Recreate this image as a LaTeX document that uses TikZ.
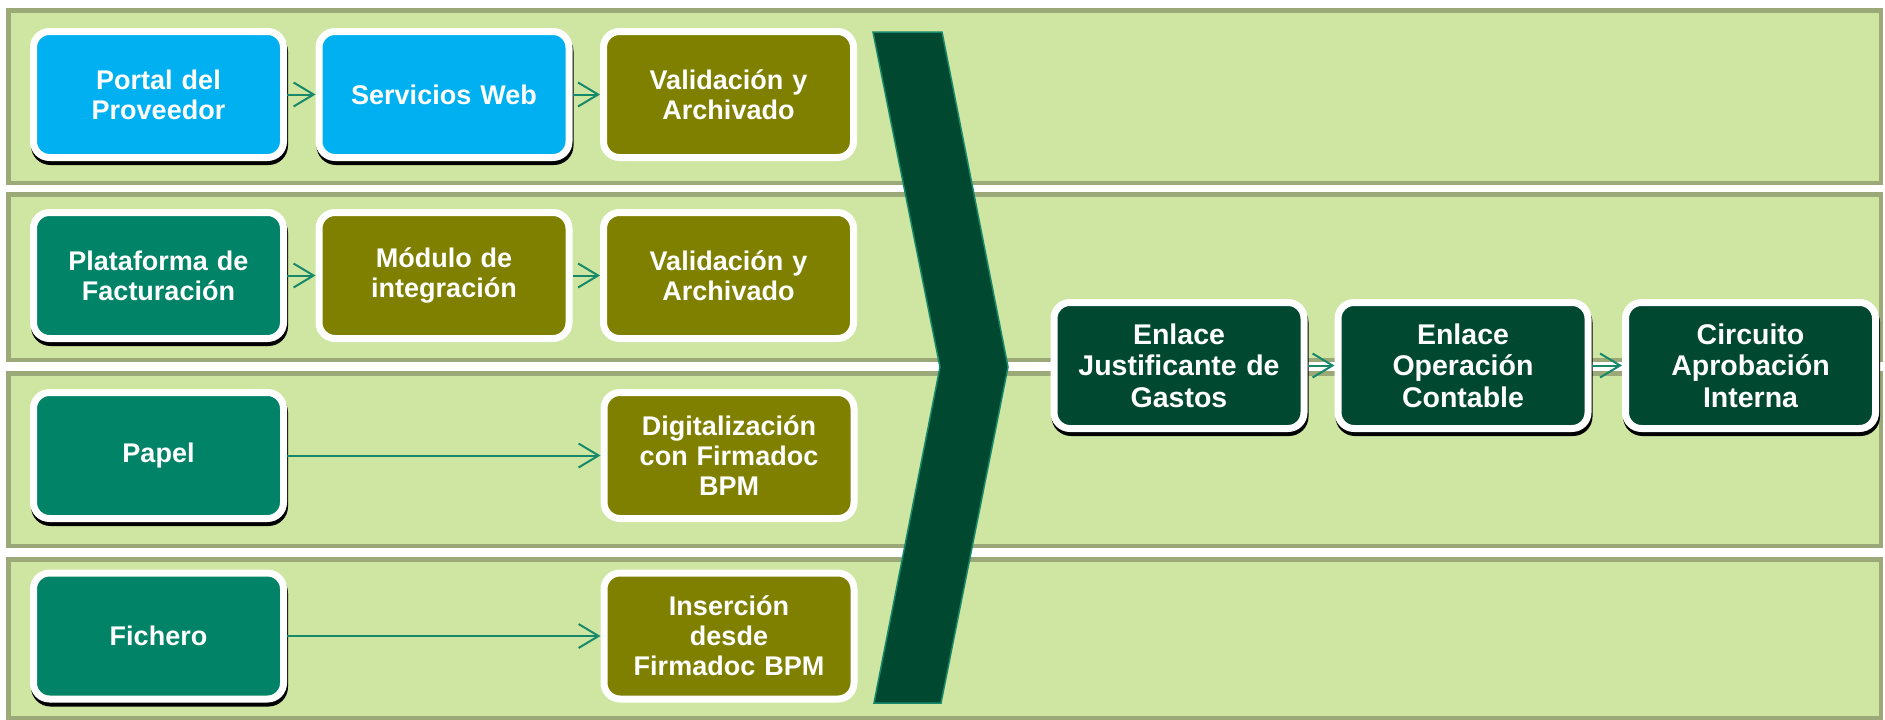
\documentclass[tikz,border=0pt]{standalone}
\usepackage{fontspec}
\setmainfont{Liberation Sans}
\usetikzlibrary{arrows.meta}
\definecolor{bandfill}{HTML}{CEE6A1}
\definecolor{bandline}{HTML}{9BA978}
\definecolor{cblue}{HTML}{00B0F0}
\definecolor{cteal}{HTML}{008366}
\definecolor{colive}{HTML}{808000}
\definecolor{cdark}{HTML}{004830}
\definecolor{carrow}{HTML}{17896A}
\tikzset{
  band/.style={fill=bandfill, draw=bandline, line width=4.5pt},
  box/.style={draw=white, line width=7pt, rounded corners=16pt,
    minimum width=250pt, minimum height=126pt, inner sep=0pt,
    text=white, align=center, text width=246pt,
    font=\bfseries\fontsize{27}{30}\selectfont},
  shad/.style={preaction={draw=black, fill=black, line width=7pt,
    transform canvas={shift={(1pt,-4pt)}}}},
  bluebox/.style={box, shad, fill=cblue},
  tealbox/.style={box, shad, fill=cteal},
  olivebox/.style={box, fill=colive},
  darkbox/.style={box, shad, fill=cdark, font=\bfseries\fontsize{28.5}{31.5}\selectfont},
  flow/.style={draw=carrow, line width=2pt,
    -{Straight Barb[length=20pt, width=24pt, line width=2pt]}},
}
\begin{document}
\begin{tikzpicture}[x=1pt, y=-1pt]
\useasboundingbox (0,0) rectangle (1885,720);
% bands
\path[band] (8.25,10.25) rectangle (1880.75,182.75);
\path[band] (8.25,194.25) rectangle (1880.75,359.75);
\path[band] (8.25,373.25) rectangle (1880.75,545.75);
\path[band] (8.25,559.25) rectangle (1880.75,717.75);
% chevron
\fill[cdark, draw=carrow, line width=1.5pt]
  (873,32) -- (942,32) -- (1008,367) -- (941,703) -- (874,703) -- (940,367) -- cycle;
% row 1
\node[bluebox] (p1) at (158.5,94.5) {Portal del\\Proveedor};
\node[bluebox] (s1) at (444,94.5) {Servicios Web};
\node[olivebox] (v1) at (728.5,94.5) {Validación y\\Archivado};
% row 2
\node[tealbox] (p2) at (158.5,275.5) {Plataforma de\\Facturación};
\node[olivebox] (m2) at (444,275.5) {Módulo de\\integración};
\node[olivebox] (v2) at (728.5,275.5) {Validación y\\Archivado};
% row 3
\node[tealbox] (p3) at (158.5,455.5) {Papel};
\node[olivebox] (d3) at (729,455.5) {Digitalización\\con Firmadoc\\BPM};
% row 4
\node[tealbox] (p4) at (158.5,636) {Fichero};
\node[olivebox] (d4) at (729,636) {Inserción\\desde\\Firmadoc BPM};
% right row
\node[darkbox] (e1) at (1179,365.5) {Enlace\\Justificante de\\Gastos};
\node[darkbox] (e2) at (1463,365.5) {Enlace\\Operación\\Contable};
\node[darkbox] (e3) at (1750.5,365.5) {Circuito\\Aprobación\\Interna};
% connectors
\draw[flow] (p1) -- (s1);
\draw[flow] (s1) -- (v1);
\draw[flow] (p2) -- (m2);
\draw[flow] (m2) -- (v2);
\draw[flow] (p3) -- (d3);
\draw[flow] (p4) -- (d4);
\draw[flow] (e1) -- (e2);
\draw[flow] (e2) -- (e3);
\end{tikzpicture}
\end{document}
